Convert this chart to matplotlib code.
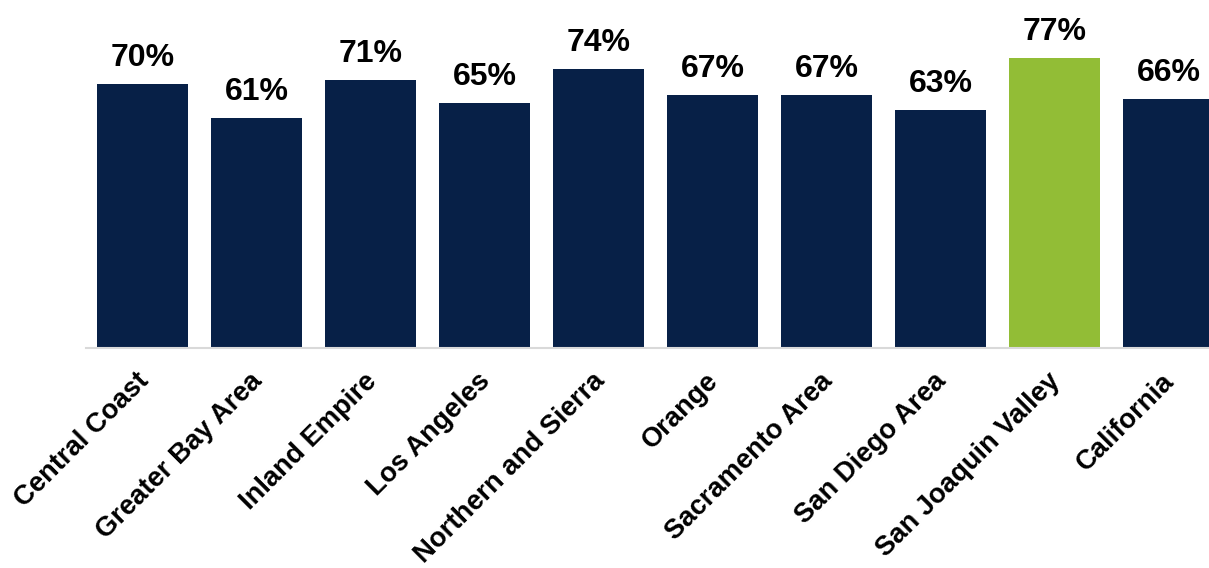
import matplotlib.pyplot as plt
from matplotlib.transforms import ScaledTranslation

regions = ['Central Coast', 'Greater Bay Area', 'Inland Empire', 'Los Angeles',
           'Northern and Sierra', 'Orange', 'Sacramento Area', 'San Diego Area',
           'San Joaquin Valley', 'California']
values = [70, 61, 71, 65, 74, 67, 67, 63, 77, 66]
highlight = 'San Joaquin Valley'

navy = '#072047'
green = '#92bd36'

plt.rcParams['font.family'] = ['Liberation Sans', 'DejaVu Sans']

fig = plt.figure(figsize=(12.09, 5.68), dpi=100)
# axes runs past the right edge, so the last bar is cut off like the original
ax = fig.add_axes([85.5 / 1209, 220 / 568, 1140 / 1209, 342 / 568])

x = range(len(regions))
colors = [green if r == highlight else navy for r in regions]
bars = ax.bar(x, values, width=0.8, color=colors)

for b, v in zip(bars, values):
    ax.annotate(f'{v}%', (b.get_x() + b.get_width() / 2, v),
                xytext=(0, 8), textcoords='offset points',
                ha='center', va='bottom', fontsize=23, fontweight='bold')

ax.set_xlim(-0.5, len(regions) - 0.5)
ax.set_ylim(0, 90.7)
ax.set_xticks(list(x))
ax.set_xticklabels(regions, rotation=45, ha='right', rotation_mode='anchor',
                   fontsize=19.7, fontweight='bold')
ax.tick_params(axis='x', length=0, pad=14.5)
shift = ScaledTranslation(-7 / 100, 0, fig.dpi_scale_trans)
for lbl in ax.get_xticklabels():
    lbl.set_transform(lbl.get_transform() + shift)
ax.set_yticks([])
for s in ['top', 'left', 'right']:
    ax.spines[s].set_visible(False)
ax.spines['bottom'].set_color('#d9d9d9')
ax.spines['bottom'].set_linewidth(1.5)

fig.savefig('out.png', dpi=100)
